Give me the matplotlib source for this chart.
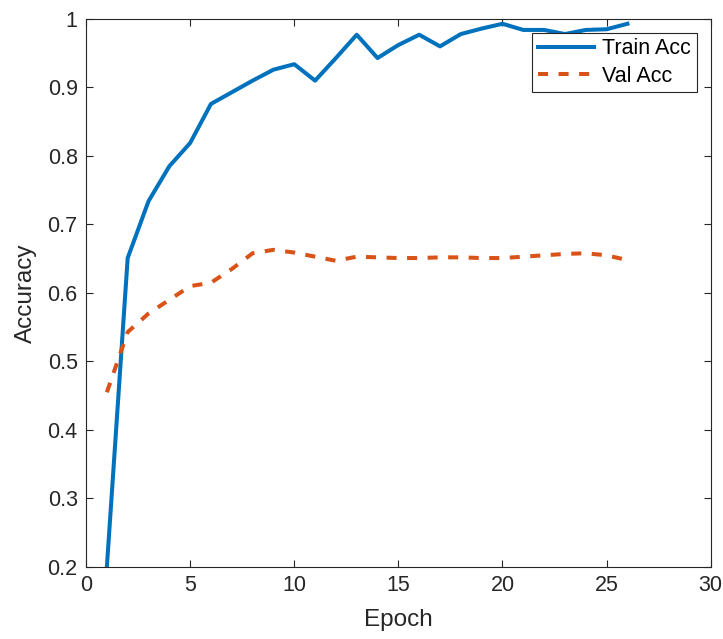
import numpy as np
import matplotlib
matplotlib.use('Agg')
import matplotlib.pyplot as plt

plt.rcParams['font.family'] = ['Liberation Sans', 'DejaVu Sans']

# accuracy per epoch
epochs = np.arange(1, 27)
train_acc = [0.200, 0.651, 0.734, 0.785, 0.819, 0.876, 0.893, 0.910, 0.926,
             0.934, 0.910, 0.943, 0.977, 0.943, 0.962, 0.977, 0.960, 0.978,
             0.986, 0.993, 0.984, 0.984, 0.978, 0.984, 0.985, 0.993]
val_acc = [0.455, 0.543, 0.570, 0.590, 0.610, 0.615, 0.635, 0.658, 0.663,
           0.659, 0.653, 0.647, 0.653, 0.652, 0.651, 0.651, 0.652, 0.652,
           0.651, 0.651, 0.653, 0.655, 0.657, 0.658, 0.655, 0.648]

blue = '#0072BD'
orange = '#D95319'
axcol = '#262626'

fig = plt.figure(figsize=(7.23, 6.39), dpi=100)
ax = fig.add_axes([0.119, 0.1127, 0.864, 0.8576])

ax.plot(epochs, train_acc, color=blue, linewidth=2.9, label='Train Acc')
ax.plot(epochs, val_acc, color=orange, linewidth=2.9, linestyle=(0, (2.5, 2.6)),
        dash_capstyle='butt', label='Val Acc')

ax.set_xlim(0, 30)
ax.set_ylim(0.2, 1)
ax.set_xticks(np.arange(0, 31, 5))
ax.set_yticks(np.arange(0.2, 1.01, 0.1))
ax.set_yticklabels(['0.2', '0.3', '0.4', '0.5', '0.6', '0.7', '0.8', '0.9', '1'])

for s in ax.spines.values():
    s.set_color(axcol)
    s.set_linewidth(0.8)
ax.tick_params(direction='in', length=5, width=0.8, color=axcol,
               labelsize=15.5, labelcolor='#262626',
               top=True, right=True, pad=6)

ax.set_xlabel('Epoch', fontsize=17.5, color='#262626', labelpad=9)
ax.set_ylabel('Accuracy', fontsize=17.5, color='#262626', labelpad=8)

leg = ax.legend(loc='upper right', fontsize=15.5, frameon=True, fancybox=False,
                edgecolor=axcol, framealpha=1, handlelength=2.6,
                borderaxespad=0.65, borderpad=0.25, labelspacing=0.3,
                handletextpad=0.4)
leg.get_frame().set_linewidth(0.8)

fig.savefig('out.png', dpi=100)
